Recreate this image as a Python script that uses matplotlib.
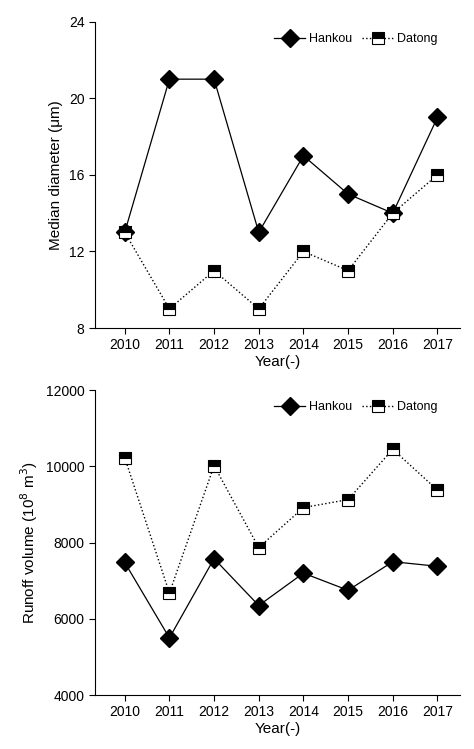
import matplotlib
matplotlib.use("Agg")
import matplotlib.pyplot as plt

years = [2010, 2011, 2012, 2013, 2014, 2015, 2016, 2017]
hankou_d = [13, 21, 21, 13, 17, 15, 14, 19]
datong_d = [13, 9, 11, 9, 12, 11, 14, 16]
hankou_r = [7480, 5500, 7580, 6350, 7200, 6750, 7500, 7380]
datong_r = [10230, 6680, 10020, 7870, 8920, 9130, 10450, 9380]

plt.rcParams['font.family'] = ['Liberation Sans', 'DejaVu Sans']
fig = plt.figure(figsize=(4.74, 7.49), dpi=100)
ax1 = fig.add_axes([0.2, 0.562, 0.77, 0.409])
ax2 = fig.add_axes([0.2, 0.072, 0.77, 0.407])

def draw(ax, h, d, ylim, yticks, ylabel):
    ax.plot(years, h, '-', color='black', lw=0.9, marker='D', ms=9, mfc='black', label='Hankou')
    ax.plot(years, d, ':', color='black', lw=1.0, marker='s', ms=8, fillstyle='top',
            mfc='black', mfcalt='white', mec='black', mew=0.8, label='Datong')
    ax.set_xlim(2009.33, 2017.5)
    ax.set_ylim(*ylim)
    ax.set_yticks(yticks)
    ax.set_xticks(years)
    ax.spines['top'].set_visible(False)
    ax.spines['right'].set_visible(False)
    ax.tick_params(labelsize=10, direction='out', length=4)
    ax.set_xlabel('Year(-)', fontsize=11, labelpad=2)
    ax.set_ylabel(ylabel, fontsize=11)
    ax.legend(loc='upper right', ncol=2, frameon=False, fontsize=9, handlelength=2.5,
              columnspacing=0.8, handletextpad=0.3, bbox_to_anchor=(0.97, 1.0))

draw(ax1, hankou_d, datong_d, (8, 24), [8, 12, 16, 20, 24], 'Median diameter (μm)')
draw(ax2, hankou_r, datong_r, (4000, 12000), [4000, 6000, 8000, 10000, 12000],
     'Runoff volume (10$^{8}$ m$^{3}$)')
fig.savefig('out.png', dpi=100)
